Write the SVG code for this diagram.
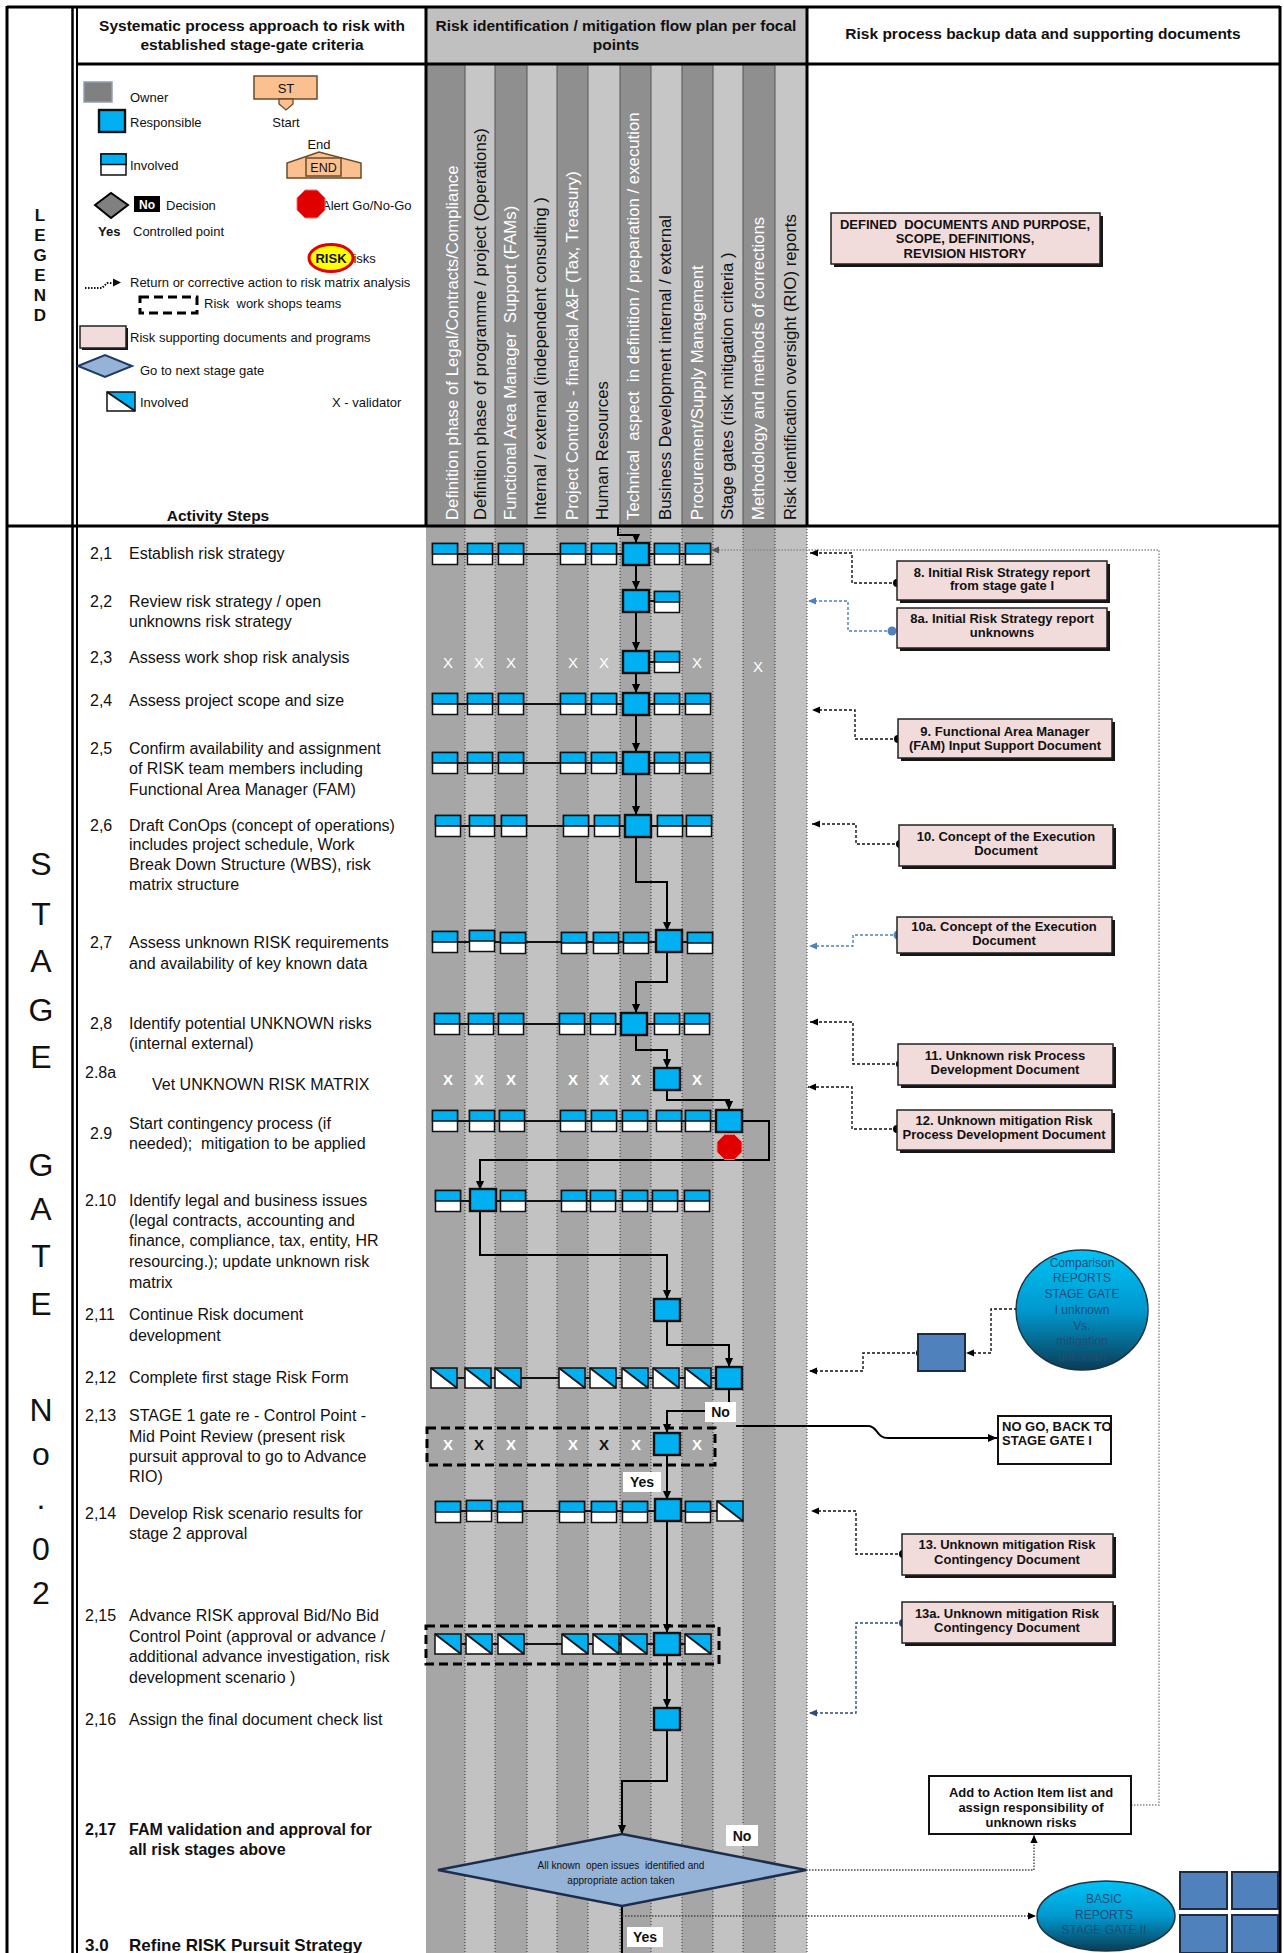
<svg xmlns="http://www.w3.org/2000/svg" width="1284" height="1953" viewBox="0 0 1284 1953">
<style>
text{font-family:"Liberation Sans",Arial,sans-serif;fill:#111}
.h{font-size:15.5px;font-weight:bold;text-anchor:middle}
.lg{font-size:13px}
.st{font-size:16px}
.b{font-weight:bold}
.vt{font-size:16.8px;white-space:pre}
.vw{fill:#fff}
.doc{font-size:13px;font-weight:bold;text-anchor:middle}
.xw{fill:#fff;font-size:15px;text-anchor:middle}
.xwb{fill:#fff;font-size:15px;text-anchor:middle;font-weight:bold}
.xbb{fill:#111;font-size:15px;text-anchor:middle;font-weight:bold}
.flow{fill:none;stroke:#000;stroke-width:2;marker-end:url(#ah)}
.fl{fill:none;stroke:#000;stroke-width:2}
.rowl{fill:none;stroke:#111;stroke-width:2}
.dash{fill:none;stroke:#111;stroke-width:1.4;stroke-dasharray:3 2;marker-end:url(#ahs)}
.dashb{fill:none;stroke:#4f81bd;stroke-width:1.4;stroke-dasharray:3 2;marker-end:url(#ahb)}
.dashd{fill:none;stroke:#2e4a7a;stroke-width:1.4;stroke-dasharray:3 2;marker-end:url(#ahd)}
.dot{fill:none;stroke:#444;stroke-width:1.4;stroke-dasharray:1.5 1.5;marker-end:url(#ahs)}
.dotg{fill:none;stroke:#8a8a8a;stroke-width:1.4;stroke-dasharray:1.5 1.5;marker-end:url(#ahg)}
.sep{stroke:#333;stroke-width:1;stroke-dasharray:1 2}
.fr{stroke:#000;stroke-width:3}
.pink{fill:#f2dcdb;stroke:#222;stroke-width:1.5}
.shd{fill:#151515}
.lbl{fill:#fff}
.team{fill:none;stroke:#000;stroke-width:3;stroke-dasharray:9 5}
.dk{fill:#a6a6a6}
.lt{fill:#c2c2c2}
.hdk{fill:#8f8f8f}
.hlt{fill:#c6c6c6}
.sq{fill:#4f81bd;stroke:#1c2b40;stroke-width:2}
.circ{font-size:12px;text-anchor:middle;fill:#1f4e79;font-family:"Liberation Sans",Arial,sans-serif}
</style>
<defs>
<marker id="ah" viewBox="0 0 10 10" refX="10" refY="5" markerWidth="9" markerHeight="9" markerUnits="userSpaceOnUse" orient="auto"><path d="M0,0.5 L10,5 L0,9.5 z" fill="#000"/></marker>
<marker id="ahs" viewBox="0 0 10 10" refX="10" refY="5" markerWidth="8" markerHeight="8" markerUnits="userSpaceOnUse" orient="auto"><path d="M0,0.5 L10,5 L0,9.5 z" fill="#000"/></marker>
<marker id="ahb" viewBox="0 0 10 10" refX="10" refY="5" markerWidth="8" markerHeight="8" markerUnits="userSpaceOnUse" orient="auto"><path d="M0,0.5 L10,5 L0,9.5 z" fill="#4f81bd"/></marker>
<marker id="ahd" viewBox="0 0 10 10" refX="10" refY="5" markerWidth="8" markerHeight="8" markerUnits="userSpaceOnUse" orient="auto"><path d="M0,0.5 L10,5 L0,9.5 z" fill="#2e4a7a"/></marker>
<marker id="ahg" viewBox="0 0 10 10" refX="10" refY="5" markerWidth="8" markerHeight="8" markerUnits="userSpaceOnUse" orient="auto"><path d="M0,0.5 L10,5 L0,9.5 z" fill="#555"/></marker>
<linearGradient id="gc" x1="0" y1="0" x2="0" y2="1"><stop offset="0" stop-color="#00c2f5"/><stop offset="0.5" stop-color="#0099cf"/><stop offset="1" stop-color="#0a3d55"/></linearGradient>
<g id="sInv"><rect x="-12.5" y="-10.5" width="25" height="21" fill="#fff" stroke="#111" stroke-width="1.5"/><rect x="-12.5" y="-10.5" width="25" height="10.5" fill="#00b0f0" stroke="#111" stroke-width="1.5"/></g>
<g id="sResp"><rect x="-13" y="-11" width="26" height="22" fill="#00b0f0" stroke="#111" stroke-width="2.4"/></g>
<g id="sDiag"><rect x="-13" y="-10" width="26" height="20" fill="#fff"/><path d="M-13,-10 H13 V10 Z" fill="#00b0f0"/><path d="M-13,-10 L13,10" stroke="#1a1a1a" stroke-width="2"/><rect x="-13" y="-10" width="26" height="20" fill="none" stroke="#111" stroke-width="1.5"/></g>
</defs>

<rect x="0" y="0" width="1284" height="1953" fill="#fff"/>

<!-- header backgrounds -->
<g id="header-bg">
<rect x="426" y="7" width="381" height="57" fill="#c0c0c0"/>
<rect class="hdk" x="426" y="64" width="39" height="462"/>
<rect class="hlt" x="465" y="64" width="30" height="462"/>
<rect class="hdk" x="495" y="64" width="32" height="462"/>
<rect class="hlt" x="527" y="64" width="30" height="462"/>
<rect class="hdk" x="557" y="64" width="31" height="462"/>
<rect class="hlt" x="588" y="64" width="32" height="462"/>
<rect class="hdk" x="620" y="64" width="31" height="462"/>
<rect class="hlt" x="651" y="64" width="31" height="462"/>
<rect class="hdk" x="682" y="64" width="31" height="462"/>
<rect class="hlt" x="713" y="64" width="30" height="462"/>
<rect class="hdk" x="743" y="64" width="32" height="462"/>
<rect class="hlt" x="775" y="64" width="32" height="462"/>
</g>
<g id="header-cols-sep" stroke="#555" stroke-width="1">
<line x1="465" y1="64" x2="465" y2="526"/><line x1="495" y1="64" x2="495" y2="526"/><line x1="527" y1="64" x2="527" y2="526"/><line x1="557" y1="64" x2="557" y2="526"/><line x1="588" y1="64" x2="588" y2="526"/><line x1="620" y1="64" x2="620" y2="526"/><line x1="651" y1="64" x2="651" y2="526"/><line x1="682" y1="64" x2="682" y2="526"/><line x1="713" y1="64" x2="713" y2="526"/><line x1="743" y1="64" x2="743" y2="526"/><line x1="775" y1="64" x2="775" y2="526"/>
</g>

<!-- body lanes -->
<g id="lanes">
<rect class="dk" x="426" y="526" width="39" height="1427"/>
<rect class="lt" x="465" y="526" width="30" height="1427"/>
<rect class="dk" x="495" y="526" width="32" height="1427"/>
<rect class="lt" x="527" y="526" width="30" height="1427"/>
<rect class="dk" x="557" y="526" width="31" height="1427"/>
<rect class="lt" x="588" y="526" width="32" height="1427"/>
<rect class="dk" x="620" y="526" width="31" height="1427"/>
<rect class="lt" x="651" y="526" width="31" height="1427"/>
<rect class="dk" x="682" y="526" width="31" height="1427"/>
<rect class="lt" x="713" y="526" width="30" height="1427"/>
<rect class="dk" x="743" y="526" width="32" height="1427"/>
<rect class="lt" x="775" y="526" width="32" height="1427"/>
</g>
<g id="lane-sep">
<line class="sep" x1="465" y1="526" x2="465" y2="1953"/><line class="sep" x1="495" y1="526" x2="495" y2="1953"/><line class="sep" x1="527" y1="526" x2="527" y2="1953"/><line class="sep" x1="557" y1="526" x2="557" y2="1953"/><line class="sep" x1="588" y1="526" x2="588" y2="1953"/><line class="sep" x1="620" y1="526" x2="620" y2="1953"/><line class="sep" x1="651" y1="526" x2="651" y2="1953"/><line class="sep" x1="682" y1="526" x2="682" y2="1953"/><line class="sep" x1="713" y1="526" x2="713" y2="1953"/><line class="sep" x1="743" y1="526" x2="743" y2="1953"/><line class="sep" x1="775" y1="526" x2="775" y2="1953"/><line class="sep" x1="807" y1="526" x2="807" y2="1953"/>
</g>

<!-- frame -->
<g id="frame">
<line class="fr" x1="7" y1="7" x2="1280" y2="7"/>
<line class="fr" x1="7" y1="6" x2="7" y2="1953"/>
<line class="fr" x1="1280" y1="6" x2="1280" y2="1953"/>
<line x1="72.5" y1="7" x2="72.5" y2="1953" stroke="#000" stroke-width="2.5"/>
<line x1="77" y1="7" x2="77" y2="1953" stroke="#000" stroke-width="2"/>
<line class="fr" x1="77" y1="64" x2="1280" y2="64"/>
<line class="fr" x1="7" y1="526" x2="1280" y2="526"/>
<line class="fr" x1="426" y1="7" x2="426" y2="526"/>
<line class="fr" x1="807" y1="7" x2="807" y2="526"/>
</g>

<!-- header titles -->
<g id="titles">
<text class="h" x="252" y="31">Systematic process approach to risk with</text>
<text class="h" x="252" y="50">established stage-gate criteria</text>
<text class="h" x="616" y="31">Risk identification / mitigation flow plan per focal</text>
<text class="h" x="616" y="50">points</text>
<text class="h" x="1043" y="39">Risk process backup data and supporting documents</text>
<text class="h" x="218" y="521">Activity Steps</text>
</g>

<g id="col-labels">
<text class="vt vw" transform="translate(458,520) rotate(-90)">Definition phase of Legal/Contracts/Compliance</text>
<text class="vt" transform="translate(486,520) rotate(-90)">Definition phase of programme / project (Operations)</text>
<text class="vt vw" transform="translate(516,520) rotate(-90)">Functional Area Manager  Support (FAMs)</text>
<text class="vt" transform="translate(546,520) rotate(-90)">Internal / external (independent consulting )</text>
<text class="vt vw" transform="translate(578,520) rotate(-90)">Project Controls - financial A&amp;F (Tax, Treasury)</text>
<text class="vt" transform="translate(608,520) rotate(-90)">Human Resources</text>
<text class="vt vw" transform="translate(639,520) rotate(-90)">Technical  aspect  in definition / preparation / execution</text>
<text class="vt" transform="translate(671,520) rotate(-90)">Business Development internal / external</text>
<text class="vt vw" transform="translate(703,520) rotate(-90)">Procurement/Supply Management</text>
<text class="vt" transform="translate(733,520) rotate(-90)">Stage gates (risk mitigation criteria )</text>
<text class="vt vw" transform="translate(764,520) rotate(-90)">Methodology and methods of corrections</text>
<text class="vt" transform="translate(796,520) rotate(-90)">Risk identification oversight (RIO) reports</text>
</g>

<!-- legend -->
<g id="legend-word" font-weight="bold" font-size="17" text-anchor="middle">
<text x="40" y="221">L</text><text x="40" y="241">E</text><text x="40" y="261">G</text><text x="40" y="281">E</text><text x="40" y="301">N</text><text x="40" y="321">D</text>
</g>
<g id="legend">
<rect x="84" y="82" width="28" height="20" fill="#808080" stroke="#8ea0b8" stroke-width="1.5"/>
<text class="lg" x="130" y="101.5">Owner</text>
<rect x="99" y="110" width="26" height="22" fill="#00b0f0" stroke="#111" stroke-width="2.4"/>
<text class="lg" x="130" y="126.5">Responsible</text>
<use href="#sInv" x="113.5" y="164.5"/>
<text class="lg" x="130" y="169.5">Involved</text>
<polygon points="95,205 111,193 128,205 111,218" fill="#808080" stroke="#000" stroke-width="2"/>
<rect x="134" y="196" width="26" height="16" fill="#000"/>
<text x="147" y="208.5" font-size="12" font-weight="bold" text-anchor="middle" style="fill:#fff">No</text>
<text class="lg" x="166" y="209.5">Decision</text>
<text class="lg b" x="98" y="235.5">Yes</text>
<text class="lg" x="133" y="235.5">Controlled point</text>
<path d="M85,288 H102 L107,283 H112" fill="none" stroke="#111" stroke-width="2" stroke-dasharray="1.5 1.5"/>
<path d="M113,278.5 L121,282.5 L113,286.5 z" fill="#111"/>
<text class="lg" x="130" y="286.5">Return or corrective action to risk matrix analysis</text>
<rect class="team" x="140" y="297" width="57" height="16" stroke-dasharray="7 4"/>
<text class="lg" x="204" y="307.5" style="white-space:pre">Risk  work shops teams</text>
<rect class="shd" x="82" y="328" width="46" height="22"/>
<rect class="pink" x="80" y="326" width="46" height="22"/>
<text class="lg" x="130" y="341.5">Risk supporting documents and programs</text>
<polygon points="78,366 105,355 132,366 105,377" fill="#95b3d7" stroke="#1f3864" stroke-width="2"/>
<text class="lg" x="140" y="374.5">Go to next stage gate</text>
<rect x="107" y="392" width="28" height="19" fill="#fff"/>
<path d="M107,392 H135 V411 Z" fill="#00b0f0"/>
<path d="M107,392 L135,411" stroke="#111" stroke-width="2"/>
<rect x="107" y="392" width="28" height="19" fill="none" stroke="#111" stroke-width="1.5"/>
<text class="lg" x="140" y="406.5">Involved</text>
<text class="lg" x="332" y="406.5">X - validator</text>
<rect x="254" y="76" width="63" height="23" fill="#fac090" stroke="#6b4a2a" stroke-width="1.5"/>
<polygon points="279,99 293,99 293,104 286,110 279,104" fill="#fac090" stroke="#6b4a2a" stroke-width="1.3"/>
<text x="286" y="93" font-size="13" text-anchor="middle">ST</text>
<text class="lg" x="286" y="126.5" text-anchor="middle">Start</text>
<text class="lg" x="319" y="148.5" text-anchor="middle">End</text>
<polygon points="287,178 287,163 319,152 361,163 361,178" fill="#fac090" stroke="#6b4a2a" stroke-width="1.5"/>
<rect x="306" y="158" width="35" height="18" fill="#fac090" stroke="#6b4a2a" stroke-width="1.5"/>
<text x="323.5" y="172" font-size="12.5" text-anchor="middle">END</text>
<text class="lg" x="322" y="209.5">Alert Go/No-Go</text>
<polygon points="325,198 317,190 305,190 297,198 297,210 305,218 317,218 325,210" fill="#e00000" stroke="#f07070" stroke-width="1"/>
<text class="lg" x="344" y="262.5">Risks</text>
<ellipse cx="331" cy="258" rx="22" ry="13.5" fill="#ffff00" stroke="#e00000" stroke-width="3"/>
<text x="331" y="263" font-size="13" font-weight="bold" text-anchor="middle">RISK</text>
</g>

<g id="stage-gate-word" font-size="32" text-anchor="middle">
<text x="41" y="875">S</text><text x="41" y="925">T</text><text x="41" y="972">A</text><text x="41" y="1021">G</text><text x="41" y="1068">E</text>
<text x="41" y="1176">G</text><text x="41" y="1220">A</text><text x="41" y="1267">T</text><text x="41" y="1315">E</text>
<text x="41" y="1421">N</text><text x="41" y="1465">o</text><text x="41" y="1509">.</text><text x="41" y="1560">0</text><text x="41" y="1604">2</text>
</g>

<!-- activity steps -->
<g id="steps" class="st">
<text x="90" y="559">2,1</text><text x="129" y="559">Establish risk strategy</text>
<text x="90" y="607">2,2</text><text x="129" y="607">Review risk strategy / open</text><text x="129" y="627">unknowns risk strategy</text>
<text x="90" y="663">2,3</text><text x="129" y="663">Assess work shop risk analysis</text>
<text x="90" y="706">2,4</text><text x="129" y="706">Assess project scope and size</text>
<text x="90" y="754">2,5</text><text x="129" y="754">Confirm availability and assignment</text><text x="129" y="774">of RISK team members including</text><text x="129" y="795">Functional Area Manager (FAM)</text>
<text x="90" y="831">2,6</text><text x="129" y="831">Draft ConOps (concept of operations)</text><text x="129" y="850">includes project schedule, Work</text><text x="129" y="870">Break Down Structure (WBS), risk</text><text x="129" y="890">matrix structure</text>
<text x="90" y="948">2,7</text><text x="129" y="948">Assess unknown RISK requirements</text><text x="129" y="969">and availability of key known data</text>
<text x="90" y="1029">2,8</text><text x="129" y="1029">Identify potential UNKNOWN risks</text><text x="129" y="1049">(internal external)</text>
<text x="85" y="1078">2.8a</text><text x="152" y="1090">Vet UNKNOWN RISK MATRIX</text>
<text x="90" y="1139">2.9</text><text x="129" y="1129">Start contingency process (if</text><text x="129" y="1149" style="white-space:pre">needed);  mitigation to be applied</text>
<text x="85" y="1206">2.10</text><text x="129" y="1206">Identify legal and business issues</text><text x="129" y="1226">(legal contracts, accounting and</text><text x="129" y="1246">finance, compliance, tax, entity, HR</text><text x="129" y="1267">resourcing.); update unknown risk</text><text x="129" y="1288">matrix</text>
<text x="85" y="1320">2,11</text><text x="129" y="1320">Continue Risk document</text><text x="129" y="1341">development</text>
<text x="85" y="1383">2,12</text><text x="129" y="1383">Complete first stage Risk Form</text>
<text x="85" y="1421">2,13</text><text x="129" y="1421">STAGE 1 gate re - Control Point -</text><text x="129" y="1442">Mid Point Review (present risk</text><text x="129" y="1462">pursuit approval to go to Advance</text><text x="129" y="1482">RIO)</text>
<text x="85" y="1519">2,14</text><text x="129" y="1519">Develop Risk scenario results for</text><text x="129" y="1539">stage 2 approval</text>
<text x="85" y="1621">2,15</text><text x="129" y="1621">Advance RISK approval Bid/No Bid</text><text x="129" y="1642">Control Point (approval or advance /</text><text x="129" y="1662">additional advance investigation, risk</text><text x="129" y="1683">development scenario )</text>
<text x="85" y="1725">2,16</text><text x="129" y="1725">Assign the final document check list</text>
<text class="b" x="85" y="1835">2,17</text><text class="b" x="129" y="1835">FAM validation and approval for</text><text class="b" x="129" y="1855">all risk stages above</text>
<text class="b" x="85" y="1951" font-size="17">3.0</text><text class="b" x="129" y="1951" font-size="17">Refine RISK Pursuit Strategy</text>
</g>

<!-- connectors -->
<g id="connectors">
<path class="rowl" d="M445,554 H698"/>
<path class="rowl" d="M636,601 H667"/>
<path class="rowl" d="M636,662 H667"/>
<path class="rowl" d="M445,704 H698"/>
<path class="rowl" d="M445,763 H698"/>
<path class="rowl" d="M445,826 H698"/>
<path class="rowl" d="M445,942 H698"/>
<path class="rowl" d="M445,1024 H698"/>
<path class="rowl" d="M445,1121 H729"/>
<path class="rowl" d="M445,1201 H698"/>
<path class="rowl" d="M445,1378 H729"/>
<path class="rowl" d="M445,1511 H729"/>
<path class="rowl" d="M445,1644 H698"/>

<path class="flow" d="M618,527 V535 H636 V543"/>
<path class="flow" d="M636,565 V590"/>
<path class="flow" d="M636,612 V651"/>
<path class="flow" d="M636,673 V693"/>
<path class="flow" d="M636,715 V752"/>
<path class="flow" d="M636,774 V815"/>
<path class="flow" d="M636,837 V882 H667 V931"/>
<path class="flow" d="M667,953 V982 H636 V1013"/>
<path class="flow" d="M636,1035 V1050 H667 V1068"/>
<path class="flow" d="M667,1090 V1100 H729 V1110"/>
<path class="flow" d="M742,1121 H769 V1160 H480 V1190"/>
<path class="flow" d="M480,1212 V1255 H667 V1299"/>
<path class="flow" d="M667,1321 V1345 H729 V1367"/>
<path class="fl" d="M729,1389 V1404"/>
<path class="flow" d="M705,1411 H667 V1433"/>
<path class="flow" d="M736,1426 H868 C878,1426 876,1438 888,1438 H997"/>
<path class="flow" d="M667,1455 V1500"/>
<path class="flow" d="M667,1522 V1633"/>
<path class="flow" d="M667,1655 V1708"/>
<path class="flow" d="M667,1730 V1781 H622 V1834"/>
<path class="fl" d="M622,1906 V1953"/>
<path class="dot" d="M622,1916 H1036"/>
<path class="dot" d="M806,1870 H1034 V1835"/>
<path class="dotg" d="M1131,1805 H1159 V550 H711"/>

<path class="dash" d="M897,583 H852 V553 H810"/>
<path class="dashb" d="M892,631 H848 V601 H808"/>
<path class="dash" d="M898,739 H855 V710 H812"/>
<path class="dash" d="M900,844 H856 V824 H812"/>
<path class="dashb" d="M898,935 H853 V946 H809"/>
<path class="dash" d="M900,1064 H853 V1022 H810"/>
<path class="dash" d="M897,1129 H852 V1087 H808"/>
<path class="dash" d="M1017,1309 H991 V1353 H966"/>
<path class="dash" d="M920,1353 H863 V1371 H809"/>
<path class="dash" d="M903,1554 H856 V1511 H811"/>
<path class="dashd" d="M903,1623 H856 V1713 H809"/>
<circle cx="897" cy="583" r="4" fill="#000"/>
<circle cx="892" cy="631" r="4.5" fill="#4f81bd"/>
<circle cx="898" cy="739" r="4" fill="#000"/>
<circle cx="900" cy="844" r="4" fill="#000"/>
<circle cx="898" cy="935" r="4.5" fill="#4f81bd"/>
<circle cx="900" cy="1064" r="4" fill="#000"/>
<circle cx="897" cy="1129" r="4" fill="#000"/>
<circle cx="920" cy="1353" r="4" fill="#000"/>
<circle cx="903" cy="1554" r="4" fill="#000"/>
<circle cx="903" cy="1623" r="4" fill="#2e4a7a"/>
</g>

<!-- team boxes -->
<rect id="team-2-13" class="team" x="427" y="1428" width="288" height="37"/>
<rect id="team-2-15" class="team" x="426" y="1626" width="293" height="38"/>

<!-- nodes -->
<g id="row-2-1"><use href="#sInv" x="445" y="554"/><use href="#sInv" x="480" y="554"/><use href="#sInv" x="511" y="554"/><use href="#sInv" x="573" y="554"/><use href="#sInv" x="604" y="554"/><use href="#sResp" x="636" y="554"/><use href="#sInv" x="667" y="554"/><use href="#sInv" x="698" y="554"/></g>
<g id="row-2-2"><use href="#sResp" x="636" y="601"/><use href="#sInv" x="667" y="602"/></g>
<g id="row-2-3"><use href="#sResp" x="636" y="662"/><use href="#sInv" x="667" y="662"/>
<text class="xw" x="448" y="668">X</text><text class="xw" x="479" y="668">X</text><text class="xw" x="511" y="668">X</text><text class="xw" x="573" y="668">X</text><text class="xw" x="604" y="668">X</text><text class="xw" x="697" y="668">X</text><text class="xw" x="758" y="672" font-size="12">X</text></g>
<g id="row-2-4"><use href="#sInv" x="445" y="704"/><use href="#sInv" x="480" y="704"/><use href="#sInv" x="511" y="704"/><use href="#sInv" x="573" y="704"/><use href="#sInv" x="604" y="704"/><use href="#sResp" x="636" y="704"/><use href="#sInv" x="667" y="704"/><use href="#sInv" x="698" y="704"/></g>
<g id="row-2-5"><use href="#sInv" x="445" y="763"/><use href="#sInv" x="480" y="763"/><use href="#sInv" x="511" y="763"/><use href="#sInv" x="573" y="763"/><use href="#sInv" x="604" y="763"/><use href="#sResp" x="636" y="763"/><use href="#sInv" x="667" y="763"/><use href="#sInv" x="698" y="763"/></g>
<g id="row-2-6"><use href="#sInv" x="448" y="826"/><use href="#sInv" x="482" y="826"/><use href="#sInv" x="514" y="826"/><use href="#sInv" x="576" y="826"/><use href="#sInv" x="607" y="826"/><use href="#sResp" x="638" y="826"/><use href="#sInv" x="670" y="826"/><use href="#sInv" x="699" y="826"/></g>
<g id="row-2-7"><use href="#sInv" x="445" y="942"/><use href="#sInv" x="482" y="941"/><use href="#sInv" x="513" y="943"/><use href="#sInv" x="574" y="943"/><use href="#sInv" x="606" y="943"/><use href="#sInv" x="636" y="943"/><use href="#sResp" x="669" y="941"/><use href="#sInv" x="700" y="943"/></g>
<g id="row-2-8"><use href="#sInv" x="447" y="1024"/><use href="#sInv" x="481" y="1024"/><use href="#sInv" x="511" y="1024"/><use href="#sInv" x="572" y="1024"/><use href="#sInv" x="603" y="1024"/><use href="#sResp" x="634" y="1024"/><use href="#sInv" x="667" y="1024"/><use href="#sInv" x="697" y="1024"/></g>
<g id="row-2-8a"><use href="#sResp" x="667" y="1079"/>
<text class="xwb" x="448" y="1085">X</text><text class="xwb" x="479" y="1085">X</text><text class="xwb" x="511" y="1085">X</text><text class="xwb" x="573" y="1085">X</text><text class="xwb" x="604" y="1085">X</text><text class="xwb" x="636" y="1085">X</text><text class="xwb" x="697" y="1085">X</text></g>
<g id="row-2-9"><use href="#sInv" x="445" y="1121"/><use href="#sInv" x="482" y="1121"/><use href="#sInv" x="512" y="1121"/><use href="#sInv" x="573" y="1121"/><use href="#sInv" x="604" y="1121"/><use href="#sInv" x="635" y="1121"/><use href="#sInv" x="669" y="1121"/><use href="#sInv" x="698" y="1121"/><use href="#sResp" x="729" y="1121"/>
<polygon id="alert-2-9" points="742,1142 734.5,1134.5 724.5,1134.5 717,1142 717,1152 724.5,1159.5 734.5,1159.5 742,1152" fill="#e00000" stroke="#f08080" stroke-width="1"/></g>
<g id="row-2-10"><use href="#sInv" x="448" y="1201"/><use href="#sResp" x="483" y="1200"/><use href="#sInv" x="513" y="1201"/><use href="#sInv" x="574" y="1201"/><use href="#sInv" x="603" y="1201"/><use href="#sInv" x="635" y="1201"/><use href="#sInv" x="665" y="1201"/><use href="#sInv" x="697" y="1201"/></g>
<g id="row-2-11"><use href="#sResp" x="667" y="1310"/></g>
<g id="row-2-12"><use href="#sDiag" x="444" y="1378"/><use href="#sDiag" x="478" y="1378"/><use href="#sDiag" x="508" y="1378"/><use href="#sDiag" x="572" y="1378"/><use href="#sDiag" x="603" y="1378"/><use href="#sDiag" x="635" y="1378"/><use href="#sDiag" x="666" y="1378"/><use href="#sDiag" x="698" y="1378"/><use href="#sResp" x="729" y="1378"/></g>
<g id="row-2-13"><use href="#sResp" x="667" y="1444"/>
<text class="xwb" x="448" y="1450">X</text><text class="xbb" x="479" y="1450">X</text><text class="xwb" x="511" y="1450">X</text><text class="xwb" x="573" y="1450">X</text><text class="xbb" x="604" y="1450">X</text><text class="xwb" x="636" y="1450">X</text><text class="xwb" x="697" y="1450">X</text></g>
<g id="row-2-14"><use href="#sInv" x="448" y="1512"/><use href="#sInv" x="479" y="1511"/><use href="#sInv" x="510" y="1512"/><use href="#sInv" x="572" y="1512"/><use href="#sInv" x="604" y="1512"/><use href="#sInv" x="635" y="1512"/><use href="#sResp" x="668" y="1510"/><use href="#sInv" x="698" y="1512"/><use href="#sDiag" x="730" y="1511"/></g>
<g id="row-2-15"><use href="#sDiag" x="448" y="1644"/><use href="#sDiag" x="479" y="1644"/><use href="#sDiag" x="511" y="1644"/><use href="#sDiag" x="575" y="1644"/><use href="#sDiag" x="606" y="1644"/><use href="#sDiag" x="634" y="1644"/><use href="#sResp" x="667" y="1644"/><use href="#sDiag" x="698" y="1644"/></g>
<g id="row-2-16"><use href="#sResp" x="667" y="1719"/></g>

<g id="decision-2-17">
<polygon points="622,1834 806,1870 622,1906 438,1870" fill="#95b3d7" stroke="#1f2d4d" stroke-width="2.5"/>
<text x="621" y="1869" font-size="10" text-anchor="middle" style="white-space:pre">All known  open issues  identified and</text>
<text x="621" y="1884" font-size="10" text-anchor="middle">appropriate action taken</text>
</g>

<g id="labels">
<rect class="lbl" x="705" y="1402" width="31" height="20"/><text x="720.5" y="1417" font-size="14" font-weight="bold" text-anchor="middle">No</text>
<rect class="lbl" x="623" y="1472" width="38" height="20"/><text x="642" y="1487" font-size="14" font-weight="bold" text-anchor="middle">Yes</text>
<rect class="lbl" x="726" y="1825" width="32" height="21"/><text x="742" y="1841" font-size="14" font-weight="bold" text-anchor="middle">No</text>
<rect class="lbl" x="627" y="1927" width="36" height="20"/><text x="645" y="1942" font-size="14" font-weight="bold" text-anchor="middle">Yes</text>
</g>

<!-- right column documents -->
<g id="doc-defined"><rect class="shd" x="834" y="216" width="269" height="51"/><rect class="pink" x="831" y="213" width="269" height="51"/>
<text class="doc" x="965" y="228.5" font-size="12.5" style="white-space:pre">DEFINED  DOCUMENTS AND PURPOSE,</text><text class="doc" x="965" y="242.5" font-size="12.5">SCOPE, DEFINITIONS,</text><text class="doc" x="965" y="257.5" font-size="12.5">REVISION HISTORY</text></g>
<g id="doc-8"><rect class="shd" x="900" y="564" width="210" height="39"/><rect class="pink" x="897" y="561" width="210" height="39"/>
<text class="doc" x="1002" y="576.5">8. Initial Risk Strategy report</text><text class="doc" x="1002" y="590">from stage gate I</text></g>
<g id="doc-8a"><rect class="shd" x="900" y="611" width="210" height="40"/><rect class="pink" x="897" y="608" width="210" height="40"/>
<text class="doc" x="1002" y="622.5">8a. Initial Risk Strategy report</text><text class="doc" x="1002" y="636.5">unknowns</text></g>
<g id="doc-9"><rect class="shd" x="901" y="722" width="214" height="39"/><rect class="pink" x="898" y="719" width="214" height="39"/>
<text class="doc" x="1005" y="735.5">9. Functional Area Manager</text><text class="doc" x="1005" y="749.5">(FAM) Input Support Document</text></g>
<g id="doc-10"><rect class="shd" x="902" y="828" width="214" height="41"/><rect class="pink" x="899" y="825" width="214" height="41"/>
<text class="doc" x="1006" y="840.5">10. Concept of the Execution</text><text class="doc" x="1006" y="854.5">Document</text></g>
<g id="doc-10a"><rect class="shd" x="900" y="920" width="215" height="36"/><rect class="pink" x="897" y="917" width="215" height="36"/>
<text class="doc" x="1004" y="930.5">10a. Concept of the Execution</text><text class="doc" x="1004" y="944.5">Document</text></g>
<g id="doc-11"><rect class="shd" x="901" y="1047" width="215" height="41"/><rect class="pink" x="898" y="1044" width="215" height="41"/>
<text class="doc" x="1005" y="1059.5">11. Unknown risk Process</text><text class="doc" x="1005" y="1073.5">Development Document</text></g>
<g id="doc-12"><rect class="shd" x="900" y="1113" width="215" height="40"/><rect class="pink" x="897" y="1110" width="215" height="40"/>
<text class="doc" x="1004" y="1124.5">12. Unknown mitigation Risk</text><text class="doc" x="1004" y="1138.5">Process Development Document</text></g>
<g id="doc-13"><rect class="shd" x="905" y="1537" width="211" height="41"/><rect class="pink" x="902" y="1534" width="211" height="41"/>
<text class="doc" x="1007" y="1548.5">13. Unknown mitigation Risk</text><text class="doc" x="1007" y="1563.5">Contingency Document</text></g>
<g id="doc-13a"><rect class="shd" x="905" y="1605" width="211" height="41"/><rect class="pink" x="902" y="1602" width="211" height="41"/>
<text class="doc" x="1007" y="1617.5">13a. Unknown mitigation Risk</text><text class="doc" x="1007" y="1631.5">Contingency Document</text></g>

<g id="comparison-reports">
<ellipse cx="1082" cy="1310" rx="66" ry="60" fill="url(#gc)" stroke="#1c3345" stroke-width="1.5"/>
<text class="circ" x="1082" y="1267">Comparison</text><text class="circ" x="1082" y="1282">REPORTS</text><text class="circ" x="1082" y="1298">STAGE GATE</text><text class="circ" x="1082" y="1314">I unknown</text><text class="circ" x="1082" y="1330">Vs.</text><text class="circ" x="1082" y="1345">mitigation</text><text class="circ" x="1082" y="1361">unknown</text>
</g>
<rect id="blue-square" class="sq" x="918" y="1334" width="47" height="37"/>

<g id="no-go"><rect x="998" y="1416" width="113" height="48" fill="#fff" stroke="#111" stroke-width="2"/>
<text x="1002" y="1430.5" font-size="13" font-weight="bold">NO GO, BACK TO</text><text x="1002" y="1444.5" font-size="13" font-weight="bold">STAGE GATE I</text></g>

<g id="action-item"><rect x="929" y="1776" width="202" height="58" fill="#fff" stroke="#111" stroke-width="2"/>
<text class="doc" x="1031" y="1796.5">Add to Action Item list and</text><text class="doc" x="1031" y="1811.5">assign responsibility of</text><text class="doc" x="1031" y="1826.5">unknown risks</text></g>

<g id="basic-reports">
<ellipse cx="1106" cy="1916" rx="69" ry="35" fill="url(#gc)" stroke="#1c3345" stroke-width="1.5"/>
<text class="circ" x="1104" y="1903" font-size="11">BASIC</text><text class="circ" x="1104" y="1919" font-size="11">REPORTS</text><text class="circ" x="1104" y="1934" font-size="11">STAGE GATE II</text>
</g>
<g id="squares">
<rect class="sq" x="1180" y="1872" width="47" height="37"/><rect class="sq" x="1232" y="1872" width="46" height="37"/>
<rect class="sq" x="1180" y="1915" width="47" height="38"/><rect class="sq" x="1232" y="1915" width="46" height="38"/>
</g>
</svg>
